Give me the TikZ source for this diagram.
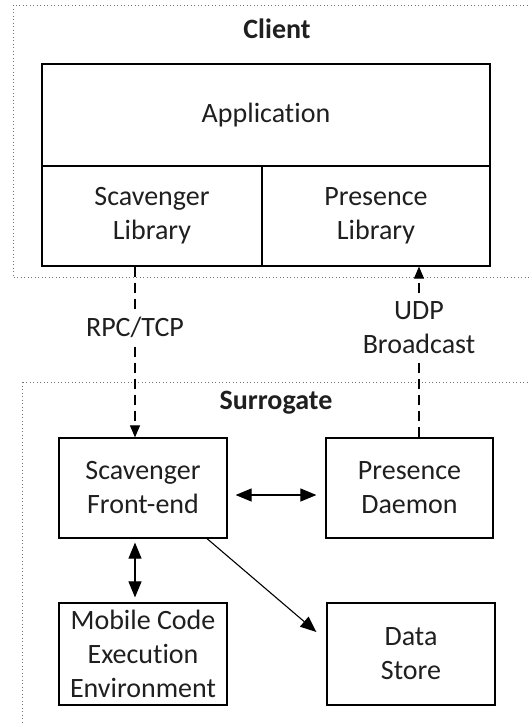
\documentclass[tikz,border=0pt]{standalone}
\usepackage{fontspec}
\setmainfont[Ligatures=NoCommon]{Carlito}
\usetikzlibrary{arrows.meta}
\begin{document}
\begin{tikzpicture}[x=0.5pt,y=-0.5pt,
  every node/.style={font=\fontsize{14}{17}\selectfont, text=black!88, align=center, inner sep=0pt},
  blk/.style={draw, line width=0.6pt, minimum width=#1},
  region/.style={draw=black!55, line width=0.45pt, dash pattern=on 0.45pt off 1.3pt},
  title/.style={font=\fontsize{14}{17}\selectfont\bfseries},
  link/.style={line width=0.55pt, -{Triangle[length=8pt,width=6.5pt]}},
  dlink/.style={line width=0.55pt, {Triangle[length=8pt,width=6.5pt]}-{Triangle[length=8pt,width=6.5pt]}},
  net/.style={line width=0.55pt, dash pattern=on 5pt off 3pt, -{Triangle[length=6pt,width=5pt]}},
  lbl/.style={fill=white, inner sep=2pt}]
\useasboundingbox (0,0) rectangle (529,725);
\clip (0,0) rectangle (529,725);

% dotted host regions
\draw[region] (13,5) rectangle (560,277);
\draw[region] (22,382) rectangle (560,760);
\node[title] (client) at (277,29) {Client};
\node[title] (surrogate) at (276,403) {Surrogate};

% client software stack
\node[blk=224pt, minimum height=51pt] (app) at (266,115) {Application};
\node[blk=110pt, minimum height=50pt] (scavlib) at (152,216) {Scavenger\\Library};
\node[blk=114pt, minimum height=50pt] (preslib) at (376,216) {Presence\\Library};

% surrogate components
\node[blk=84pt, minimum height=50pt] (front) at (143,488) {Scavenger\\Front-end};
\node[blk=83.5pt, minimum height=50pt] (daemon) at (409.5,488) {Presence\\Daemon};
\node[blk=84pt, minimum height=51pt] (mobile) at (143,654) {Mobile Code\\Execution\\Environment};
\node[blk=84pt, minimum height=51pt] (store) at (411,654) {Data\\Store};

% network links between client and surrogate
\draw[net] ([xshift=-4pt]front.north |- scavlib.south) --
  node[lbl, pos=0.355] (rpc) {RPC/TCP} ([xshift=-4pt]front.north);
\draw[net] ([xshift=4.75pt]daemon.north) --
  node[lbl, pos=0.64] (udp) {UDP\\Broadcast} ([xshift=4.75pt]daemon.north |- preslib.south);

% local interactions on the surrogate
\draw[dlink, shorten <=4pt, shorten >=4.5pt] ([yshift=-3.5pt]front.east) -- ([yshift=-3.5pt]front.east -| daemon.west);
\draw[dlink, shorten <=2pt, shorten >=2.5pt] ([xshift=-4pt]front.south) -- ([xshift=-4pt]front.south |- mobile.north);
\draw[link] ([xshift=32pt]front.south) -- ([xshift=-5pt,yshift=11pt]store.west);
\end{tikzpicture}
\end{document}
